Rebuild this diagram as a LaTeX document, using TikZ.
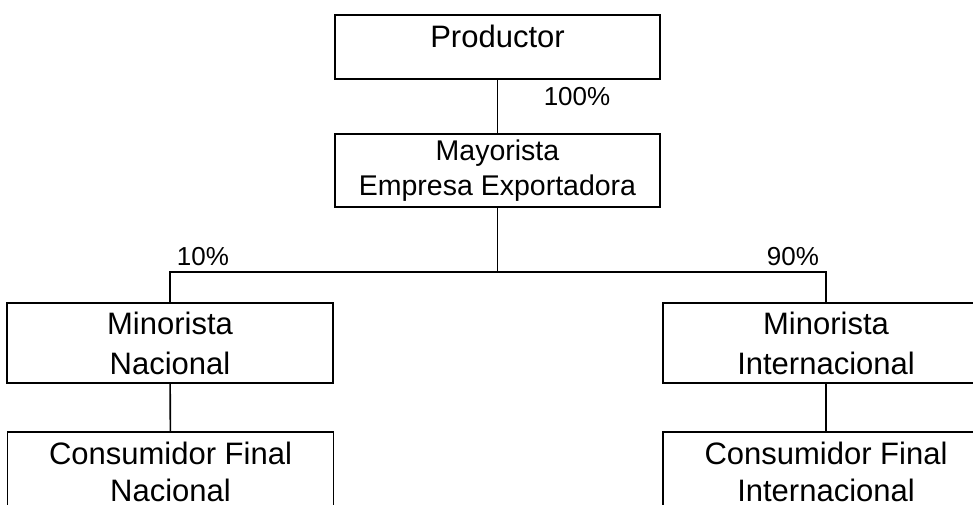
\documentclass[tikz,border=0pt]{standalone}
\usepackage{fontspec}
\setmainfont{Liberation Sans}
\tikzset{
    box/.style={draw, line width=1.6pt, inner sep=0pt, align=center,
        font=\fontsize{31}{40}\selectfont},
    link/.style={line width=1.6pt},
    pct/.style={font=\fontsize{26}{30}\selectfont, inner sep=0pt}
}
\begin{document}
\begin{tikzpicture}[x=1pt, y=-1pt]
    % page frame
    \clip (0, 0) rectangle (973, 504);

    % Draw the boxes
    \node[box, minimum width=325pt, text height=32pt, text depth=32pt] (prod) at (497.5, 47) {Productor};
    \node[box, minimum width=325pt, minimum height=73pt, font=\fontsize{28.5}{35}\selectfont] (may) at (497.5, 170.5) {Mayorista\\Empresa Exportadora};
    \node[box, minimum width=326pt, minimum height=80pt] (minN) at (170, 343) {Minorista\\Nacional};
    \node[box, minimum width=326pt, minimum height=80pt] (minI) at (826, 343) {Minorista\\Internacional};
    \node[box, minimum width=326pt, minimum height=80pt, font=\fontsize{31}{37}\selectfont] (conN) at (170.5, 472) {Consumidor Final\\Nacional};
    \node[box, minimum width=326pt, minimum height=80pt, font=\fontsize{31}{37}\selectfont] (conI) at (826, 472) {Consumidor Final\\Internacional};

    % Draw the connectors
    \coordinate (split) at (497.5, 272);
    \draw[link] (prod) -- (may);
    \draw[link] (may) -- (split);
    \draw[link] (minN.north) |- (split) -| (minI.north);
    \draw[link] (minN) -- (conN);
    \draw[link] (minI) -- (conI);

    % Label the shares
    \node[pct] (p100) at (577, 97) {100\%};
    \node[pct] (p10) at (203, 257) {10\%};
    \node[pct] (p90) at (793, 257) {90\%};
\end{tikzpicture}
\end{document}
